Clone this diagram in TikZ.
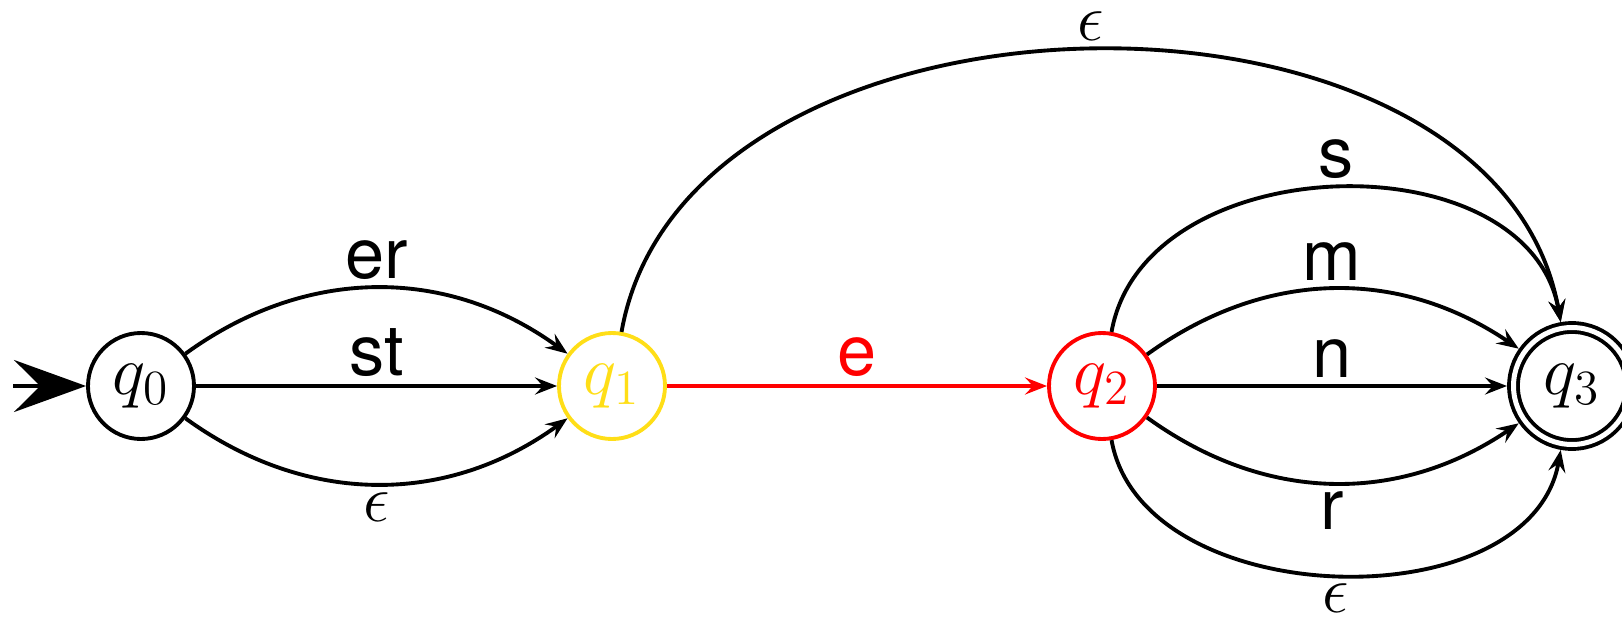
\RequirePackage{fix-cm}
\documentclass[tikz,border=0pt]{standalone}
\usepackage{fontspec}
\setsansfont{TeX Gyre Heros}
\usetikzlibrary{arrows.meta}
\definecolor{goldq}{RGB}{255,222,23}
\begin{document}
\begin{tikzpicture}[line width=1.1pt,
  state/.style={circle,draw,minimum size=1.06cm,inner sep=0pt,font=\fontsize{20}{24}\selectfont},
  lab/.style={inner sep=2pt,font=\fontsize{20}{24}\selectfont\sffamily},
  eps/.style={inner sep=2pt,font=\fontsize{19}{23}\selectfont},
  edge/.style={-{Stealth[length=0.22cm,width=0.17cm,inset=0.08cm]}}]
\useasboundingbox (0,0) rectangle (16.22,6.2);
%states
\node[state] (q0) at (1.41,2.34) {$q_0$};
\node[state,goldq] (q1) at (6.12,2.34) {$q_1$};
\node[state,red] (q2) at (11.02,2.34) {$q_2$};
\node[state,double,double distance=0.05cm,minimum size=1.17cm,outer sep=0.065cm] (q3) at (15.72,2.34) {$q_3$};
%start
\coordinate (start) at (0.13,2.34);
\draw[-{Stealth[length=0.72cm,width=0.52cm,inset=0.26cm]}] (start) -- (q0);
%q0 to q1
\draw[edge] (q0) to[bend left=36] node[lab,above] {er} (q1);
\draw[edge] (q0) -- node[lab,above] {st} (q1);
\draw[edge] (q0) to[bend right=36] node[eps,below] {$\epsilon$} (q1);
\draw[edge] (q1) to[out=80,in=100,looseness=1.02] node[eps,above] {$\epsilon$} (q3);
\draw[edge,red] (q1) -- node[lab,above] {e} (q2);
%q2 to q3
\draw[edge] (q2) to[out=80,in=100,looseness=1.07] node[lab,above] {s} (q3);
\draw[edge] (q2) to[bend left=35] node[lab,above] {m} (q3);
\draw[edge] (q2) -- node[lab,above] {n} (q3);
\draw[edge] (q2) to[bend right=35] node[lab,below] {r} (q3);
\draw[edge] (q2) to[out=-80,in=-100,looseness=1.0] node[eps,below] {$\epsilon$} (q3);
\end{tikzpicture}
\end{document}
